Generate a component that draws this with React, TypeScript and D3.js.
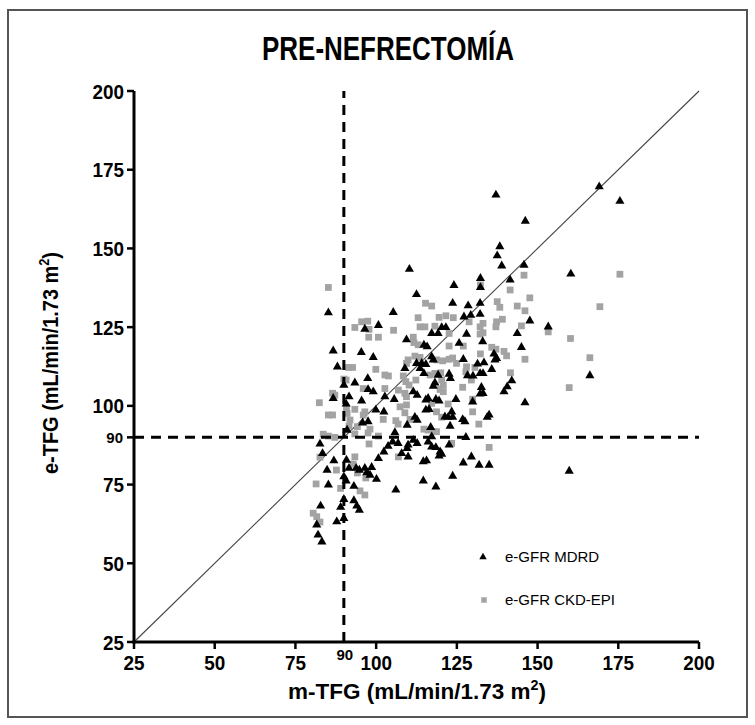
import React from "react";
import * as d3 from "d3";

// e-GFR by MDRD (triangles): [m-TFG, e-TFG]
const mdrd: number[][] = [
  [85.2,129.6],[105.3,129.7],[96.5,124.4],[100.7,125.6],[86.7,117.5],[95.4,117.0],[99.1,115.4],[88.0,112.4],[97.4,108.7],
  [93.4,107.3],[90.0,106.6],[97.5,105.2],[99.1,104.5],[102.7,102.9],[86.7,102.4],[91.6,102.9],[90.7,100.6],[95.5,101.6],
  [105.6,102.1],[99.9,98.7],[102.4,98.1],[95.8,94.6],[97.5,95.0],[91.0,92.3],[105.8,91.5],[105.1,88.6],[106.8,88.1],
  [82.6,87.9],[103.7,87.2],[83.4,84.9],[100.7,83.3],[102.4,85.4],[86.9,82.6],[90.8,82.8],[91.6,80.2],[93.8,80.2],
  [94.8,79.6],[96.5,80.2],[98.6,80.5],[84.8,79.6],[98.1,78.0],[97.1,78.8],[90.0,77.5],[100.1,76.7],[85.2,74.9],
  [90.7,76.2],[93.1,74.5],[106.1,73.3],[90.0,70.3],[93.1,69.9],[82.8,68.2],[89.0,67.8],[94.0,68.2],[94.8,66.9],
  [87.8,63.2],[81.6,62.2],[90.0,64.3],[82.0,59.0],[83.2,56.8],
  [110.3,143.4],[112.5,135.4],[109.4,121.0],[137.1,167.0],[146.2,158.7],[138.3,150.6],[137.5,147.7],[138.9,144.5],
  [145.8,144.7],[132.3,140.5],[132.3,137.6],[141.5,140.0],[124.1,138.3],[123.7,132.6],[128.5,131.8],[132.2,132.6],
  [127.2,128.3],[129.3,128.8],[132.2,129.1],[147.6,127.0],[120.3,124.9],[121.6,124.9],[153.3,125.1],[117.2,123.0],
  [119.2,123.0],[128.0,122.8],[143.7,123.0],
  [169.1,169.6],[175.5,165.0],[160.3,141.9],[166.2,109.6],[159.8,79.3],
  [114.8,119.3],[115.8,118.8],[125.7,119.9],[133.0,120.4],[145.0,118.6],[117.2,115.6],[117.7,114.6],[127.0,114.8],
  [112.5,113.5],[114.1,113.5],[115.4,113.2],[108.9,111.9],[136.5,116.5],[137.3,115.1],[136.8,114.6],[131.4,113.3],
  [133.4,113.7],[135.8,111.6],[132.2,110.3],[133.1,110.3],[113.6,111.9],[114.8,110.3],[119.2,109.8],[122.6,110.1],
  [123.0,108.7],[128.3,109.6],[130.0,109.5],[142.0,108.0],[118.2,107.3],[117.7,106.3],[140.6,106.1],[139.6,104.5],
  [132.6,105.9],[133.1,104.0],[132.2,103.8],[111.5,104.5],[112.7,103.4],[115.4,101.9],[116.1,102.4],[118.5,102.1],
  [119.5,101.6],[124.7,102.1],[129.9,101.3],[146.1,101.0],[115.4,98.7],[116.4,98.9],[121.3,96.5],[122.3,96.4],
  [123.4,98.1],[123.7,96.4],[126.8,95.7],[127.5,95.0],[134.4,96.4],[135.0,97.1],[112.0,96.4],[112.7,95.5],
  [109.6,93.9],[122.9,93.6],[116.9,93.2],[117.2,90.2],[111.5,89.1],[112.7,88.1],[116.1,88.6],[117.2,87.0],
  [127.8,90.0],[122.6,87.6],[109.9,87.6],[109.6,86.5],[118.5,86.8],[119.8,85.4],[109.9,83.8],[107.9,84.9],
  [119.5,84.1],[120.3,84.7],[114.6,82.3],[115.6,82.6],[129.5,83.8],[127.0,81.9],[131.9,81.2],[135.0,81.2],
  [123.7,77.7],[114.6,76.2],[118.5,74.3],
];

// e-GFR by CKD-EPI (squares): [m-TFG, e-TFG]
const ckdEpi: number[][] = [
  [85.2,137.6],[95.5,126.7],[97.4,126.9],[93.4,124.9],[97.8,124.3],[105.4,124.0],[97.7,121.8],[100.7,121.8],
  [91.4,112.2],[92.7,112.2],[99.9,111.6],[102.7,109.8],[103.8,109.5],
  [90.0,108.5],[90.7,108.2],[96.0,105.5],[102.7,105.5],[106.9,105.0],[86.5,104.0],[87.2,103.4],[82.4,101.0],
  [90.8,98.9],[91.0,97.6],[85.2,97.1],[86.5,97.1],[93.4,98.9],[96.5,98.1],[96.0,97.1],[91.9,95.5],[102.2,95.7],
  [106.1,95.3],[106.8,94.2],[91.6,93.6],[94.2,93.4],[98.1,92.6],[97.5,91.4],[83.6,91.0],[85.2,90.4],[87.2,90.0],
  [93.4,91.1],[100.7,90.4],[97.8,87.9],[82.6,83.7],[106.9,83.8],[93.4,83.8],[92.9,81.5],[87.7,79.6],[94.2,78.7],
  [96.8,77.1],[81.4,75.2],[89.0,73.8],[95.0,73.0],[96.5,71.7],[80.5,65.9],[81.6,64.8],[82.6,63.1],
  [145.8,141.5],[132.3,138.4],[141.5,136.8],[147.6,134.3],[115.3,132.6],[117.2,131.7],[137.5,133.1],[138.3,131.3],
  [143.7,131.7],[146.1,130.2],[113.0,128.0],[119.5,128.1],[121.6,128.6],[123.9,128.0],[128.8,126.7],[137.3,126.7],
  [139.1,127.5],[113.6,125.1],[115.1,125.1],[118.2,125.3],[133.1,126.2],[132.2,125.1],[137.1,125.1],[145.0,125.4],
  [153.3,123.5],[122.6,123.0],[132.2,122.8],[133.1,123.2],[111.5,121.8],
  [175.5,141.8],[169.3,131.5],[160.2,121.4],[166.2,115.3],[159.8,105.8],
  [111.7,120.1],[113.0,119.4],[122.6,119.0],[127.0,119.0],[135.8,118.6],[137.1,118.0],[139.6,117.3],[140.4,115.9],
  [146.1,114.8],[112.0,115.8],[113.6,115.4],[118.7,114.6],[120.6,114.3],[122.6,114.8],[123.7,115.2],[124.9,113.5],
  [128.0,112.4],[127.8,110.8],[109.4,113.5],[109.9,114.6],[132.3,116.5],[130.6,112.2],[108.4,109.5],[116.7,109.8],
  [118.2,110.3],[120.0,110.5],[129.5,108.2],[141.6,110.5],[112.3,108.2],[120.3,108.2],[120.8,106.6],[109.2,107.7],
  [110.2,106.6],[126.8,105.9],[108.9,104.0],[109.4,102.9],[120.8,104.5],[119.8,105.2],[129.9,102.1],[117.2,100.8],
  [122.3,100.6],[107.4,99.7],[109.4,100.3],[118.7,98.1],[120.3,96.4],[129.9,98.1],[131.8,94.2],[108.9,97.8],
  [110.5,95.7],[114.8,92.6],[116.1,92.3],[117.7,91.8],[118.7,91.8],[123.4,88.1],[135.0,86.8],
];

const tickValues = [25, 50, 75, 100, 125, 150, 175, 200];
const cutoff = 90;
const legendLabels = ["e-GFR MDRD", "e-GFR CKD-EPI"];
const title = "PRE-NEFRECTOMÍA";

const W = 755;
const H = 725;
const FONT = "'Liberation Sans', Arial, Helvetica, sans-serif";

export default function App() {
  const x = d3.scaleLinear().domain([25, 200]).range([134, 699]);
  const y = d3.scaleLinear().domain([25, 200]).range([642, 91]);

  const tri = d3.symbol().type(d3.symbolTriangle).size(36)()!;
  const sq = d3.symbol().type(d3.symbolSquare).size(46)()!;
  const grey = "#a3a3a3";

  const identity = d3.line<number>().x((v) => x(v)).y((v) => y(v))([25, 200])!;

  return (
    <div style={{ position: "absolute", left: 0, top: 0 }}>
      <svg width={W} height={H} style={{ display: "block", background: "#fff" }} fontFamily={FONT}>
        <rect x={8} y={10} width={739} height={707} fill="none" stroke="#555" strokeWidth={2} />

        <text x={388} y={60} textAnchor="middle" fontSize={34} fontWeight="bold"
          textLength={252} lengthAdjust="spacingAndGlyphs">{title}</text>

        {/* identity line */}
        <path d={identity} stroke="#444" strokeWidth={1.1} fill="none" />

        {/* CKD-EPI squares */}
        <g fill={grey}>
          {ckdEpi.map((d, i) => (
            <path key={"s" + i} d={sq} transform={`translate(${x(d[0])},${y(d[1])})`} />
          ))}
        </g>

        {/* MDRD triangles */}
        <g fill="#000">
          {mdrd.map((d, i) => (
            <path key={"t" + i} d={tri} transform={`translate(${x(d[0])},${y(d[1])})`} />
          ))}
        </g>

        {/* 90 mL/min cut-off lines */}
        <g stroke="#000" strokeWidth={3} strokeDasharray="10 7">
          <line x1={x(25)} x2={x(200)} y1={y(cutoff)} y2={y(cutoff)} />
          <line x1={x(cutoff)} x2={x(cutoff)} y1={y(25)} y2={y(200)} />
        </g>

        {/* axes */}
        <g stroke="#000" strokeWidth={3}>
          <line x1={x(25)} x2={x(25)} y1={y(25) + 1.5} y2={y(200)} />
          <line x1={x(25) - 1.5} x2={x(200)} y1={y(25)} y2={y(25)} />
        </g>
        <g stroke="#000" strokeWidth={2.5}>
          {tickValues.map((t) => (
            <line key={"yt" + t} x1={x(25) - 7} x2={x(25)} y1={y(t)} y2={y(t)} />
          ))}
          <line x1={x(25) - 7} x2={x(25)} y1={y(cutoff)} y2={y(cutoff)} />
          {tickValues.map((t) => (
            <line key={"xt" + t} x1={x(t)} x2={x(t)} y1={y(25)} y2={y(25) + 7} />
          ))}
        </g>

        <g fontSize={21} fontWeight="bold" textAnchor="end">
          {tickValues.map((t) => (
            <text key={"yl" + t} x={x(25) - 10} y={y(t) + 7.5}
              textLength={String(t).length * 10.5} lengthAdjust="spacingAndGlyphs">{t}</text>
          ))}
          <text x={x(25) - 11} y={y(cutoff) + 5.5} fontSize={15}>{cutoff}</text>
        </g>
        <g fontSize={21} fontWeight="bold" textAnchor="middle">
          {tickValues.map((t) => (
            <text key={"xl" + t} x={x(t)} y={y(25) + 28}
              textLength={String(t).length * 10.5} lengthAdjust="spacingAndGlyphs">{t}</text>
          ))}
        </g>
        <text x={x(cutoff) + 1} y={y(25) + 18} fontSize={15} fontWeight="bold" textAnchor="middle">{cutoff}</text>

        <text x={417} y={699} textAnchor="middle" fontSize={22} fontWeight="bold"
          textLength={258} lengthAdjust="spacingAndGlyphs">
          m-TFG (mL/min/1.73 m<tspan fontSize={14} dy={-9}>2</tspan><tspan dy={9}>)</tspan>
        </text>
        <text transform={`translate(58,${363}) rotate(-90)`} textAnchor="middle" fontSize={22} fontWeight="bold"
          textLength={222} lengthAdjust="spacingAndGlyphs">
          e-TFG (mL/min/1.73 m<tspan fontSize={14} dy={-9}>2</tspan><tspan dy={9}>)</tspan>
        </text>

        {/* legend */}
        <path d={d3.symbol().type(d3.symbolTriangle).size(24)()!} transform="translate(483,557)" fill="#000" />
        <text x={505} y={562} fontSize={15}>{legendLabels[0]}</text>
        <path d={d3.symbol().type(d3.symbolSquare).size(30)()!} transform="translate(484,600)" fill={grey} />
        <text x={505} y={605} fontSize={15}>{legendLabels[1]}</text>
      </svg>
    </div>
  );
}
